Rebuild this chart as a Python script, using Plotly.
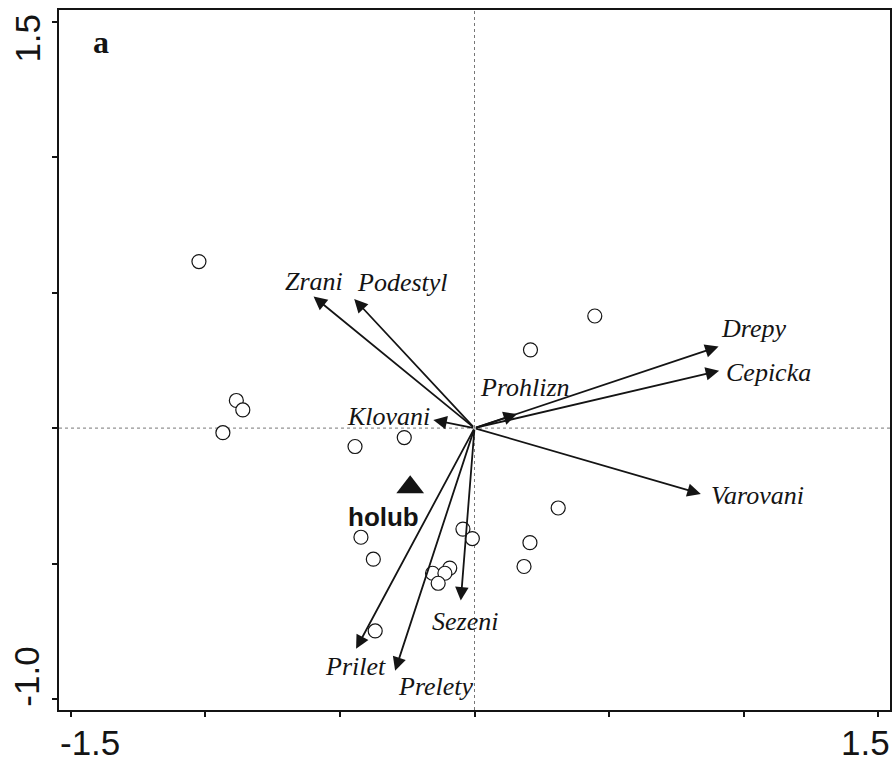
import plotly.graph_objects as go

# Site scores (open circles)
site_x = [-1.024, 0.447, 0.208, -0.885, -0.861, -0.935, -0.444, -0.261, 0.311, -0.043,
          -0.008, -0.422, 0.206, -0.376, 0.184, -0.156, -0.092, -0.110, -0.135, -0.369]
site_y = [0.615, 0.414, 0.289, 0.102, 0.067, -0.017, -0.068, -0.035, -0.295, -0.373,
          -0.408, -0.403, -0.423, -0.484, -0.511, -0.536, -0.517, -0.536, -0.573, -0.749]

# Species (behaviour) vectors
species = ["Zrani", "Podestyl", "Klovani", "Prohlizn", "Drepy",
           "Cepicka", "Varovani", "Sezeni", "Prilet", "Prelety"]
species_x = [-0.598, -0.447, -0.153, 0.158, 0.907, 0.909, 0.841, -0.051, -0.440, -0.295]
species_y = [0.486, 0.477, 0.030, 0.052, 0.301, 0.212, -0.243, -0.637, -0.815, -0.896]

# Label anchor points for the species names
label_x = [-0.595, -0.266, -0.321, 0.187, 1.036, 1.092, 1.051, -0.036, -0.443, -0.143]
label_y = [0.541, 0.536, 0.042, 0.151, 0.366, 0.204, -0.250, -0.715, -0.881, -0.955]

# Environmental (nominal) variable centroid
env_name = ["holub"]
env_x = [-0.239]
env_y = [-0.218]
env_label_x = [-0.337]
env_label_y = [-0.327]

x_range = [-1.544, 1.544]
y_range = [-1.041, 1.544]
tick_vals = [-1.5, -1.0, -0.5, 0.0, 0.5, 1.0, 1.5]

ink = "#141414"
serif = "Liberation Serif, Times New Roman, serif"
sans = "Liberation Sans, Arial, sans-serif"

fig = go.Figure()

# zero reference lines
fig.add_shape(type="line", x0=0, x1=0, y0=y_range[0], y1=y_range[1], xref="x", yref="y",
              line=dict(color="#777", width=1, dash="dot"), layer="below")
fig.add_shape(type="line", x0=x_range[0], x1=x_range[1], y0=0, y1=0, xref="x", yref="y",
              line=dict(color="#777", width=1, dash="dot"), layer="below")

fig.add_trace(go.Scatter(
    x=site_x, y=site_y, mode="markers",
    marker=dict(symbol="circle", size=14, color="white", line=dict(color=ink, width=1.2)),
    showlegend=False, hoverinfo="x+y"))

fig.add_trace(go.Scatter(
    x=env_x, y=env_y, mode="markers",
    marker=dict(symbol="triangle-up", size=24, color=ink, line=dict(width=0)),
    showlegend=False, hoverinfo="x+y"))

# arrows from the origin to each species score
for name, sx, sy in zip(species, species_x, species_y):
    fig.add_annotation(x=sx, y=sy, ax=0, ay=0, xref="x", yref="y", axref="x", ayref="y",
                       text="", showarrow=True, arrowhead=2, arrowsize=1.5,
                       arrowwidth=1.8, arrowcolor=ink, standoff=0, startstandoff=0)

for name, lx, ly in zip(species, label_x, label_y):
    fig.add_annotation(x=lx, y=ly, xref="x", yref="y", text=name, showarrow=False,
                       xanchor="center", yanchor="middle",
                       font=dict(family=serif, size=26, color=ink, style="italic"))

for name, lx, ly in zip(env_name, env_label_x, env_label_y):
    fig.add_annotation(x=lx, y=ly, xref="x", yref="y", text="<b>" + name + "</b>",
                       showarrow=False, xanchor="center", yanchor="middle",
                       font=dict(family=sans, size=26, color=ink))

# panel letter
fig.add_annotation(x=0.05, y=0.955, xref="paper", yref="paper", text="<b>a</b>",
                   showarrow=False, xanchor="center", yanchor="middle",
                   font=dict(family=serif, size=32, color=ink))

# end-of-axis tick labels, aligned with the frame edges
big = dict(family=sans, size=35, color=ink)
fig.add_annotation(x=0.0372, y=-0.047, xref="paper", yref="paper", text="-1.5",
                   showarrow=False, xanchor="center", yanchor="middle", font=big)
fig.add_annotation(x=0.971, y=-0.047, xref="paper", yref="paper", text="1.5",
                   showarrow=False, xanchor="center", yanchor="middle", font=big)
fig.add_annotation(x=-0.039, y=0.96, xref="paper", yref="paper", text="1.5", textangle=-90,
                   showarrow=False, xanchor="center", yanchor="middle", font=big)
fig.add_annotation(x=-0.039, y=0.047, xref="paper", yref="paper", text="-1.0", textangle=-90,
                   showarrow=False, xanchor="center", yanchor="middle", font=big)

axis_common = dict(showgrid=False, zeroline=False, showline=True, mirror=True,
                   linecolor=ink, linewidth=2, ticks="outside", ticklen=5, tickwidth=1.5,
                   tickcolor=ink, showticklabels=False, tickvals=tick_vals)

fig.update_layout(
    width=896, height=763,
    margin=dict(l=59, r=4, t=10, b=53),
    paper_bgcolor="white", plot_bgcolor="white",
    xaxis=dict(range=x_range, **axis_common),
    yaxis=dict(range=y_range, **axis_common),
)

fig.write_html("out.html")
